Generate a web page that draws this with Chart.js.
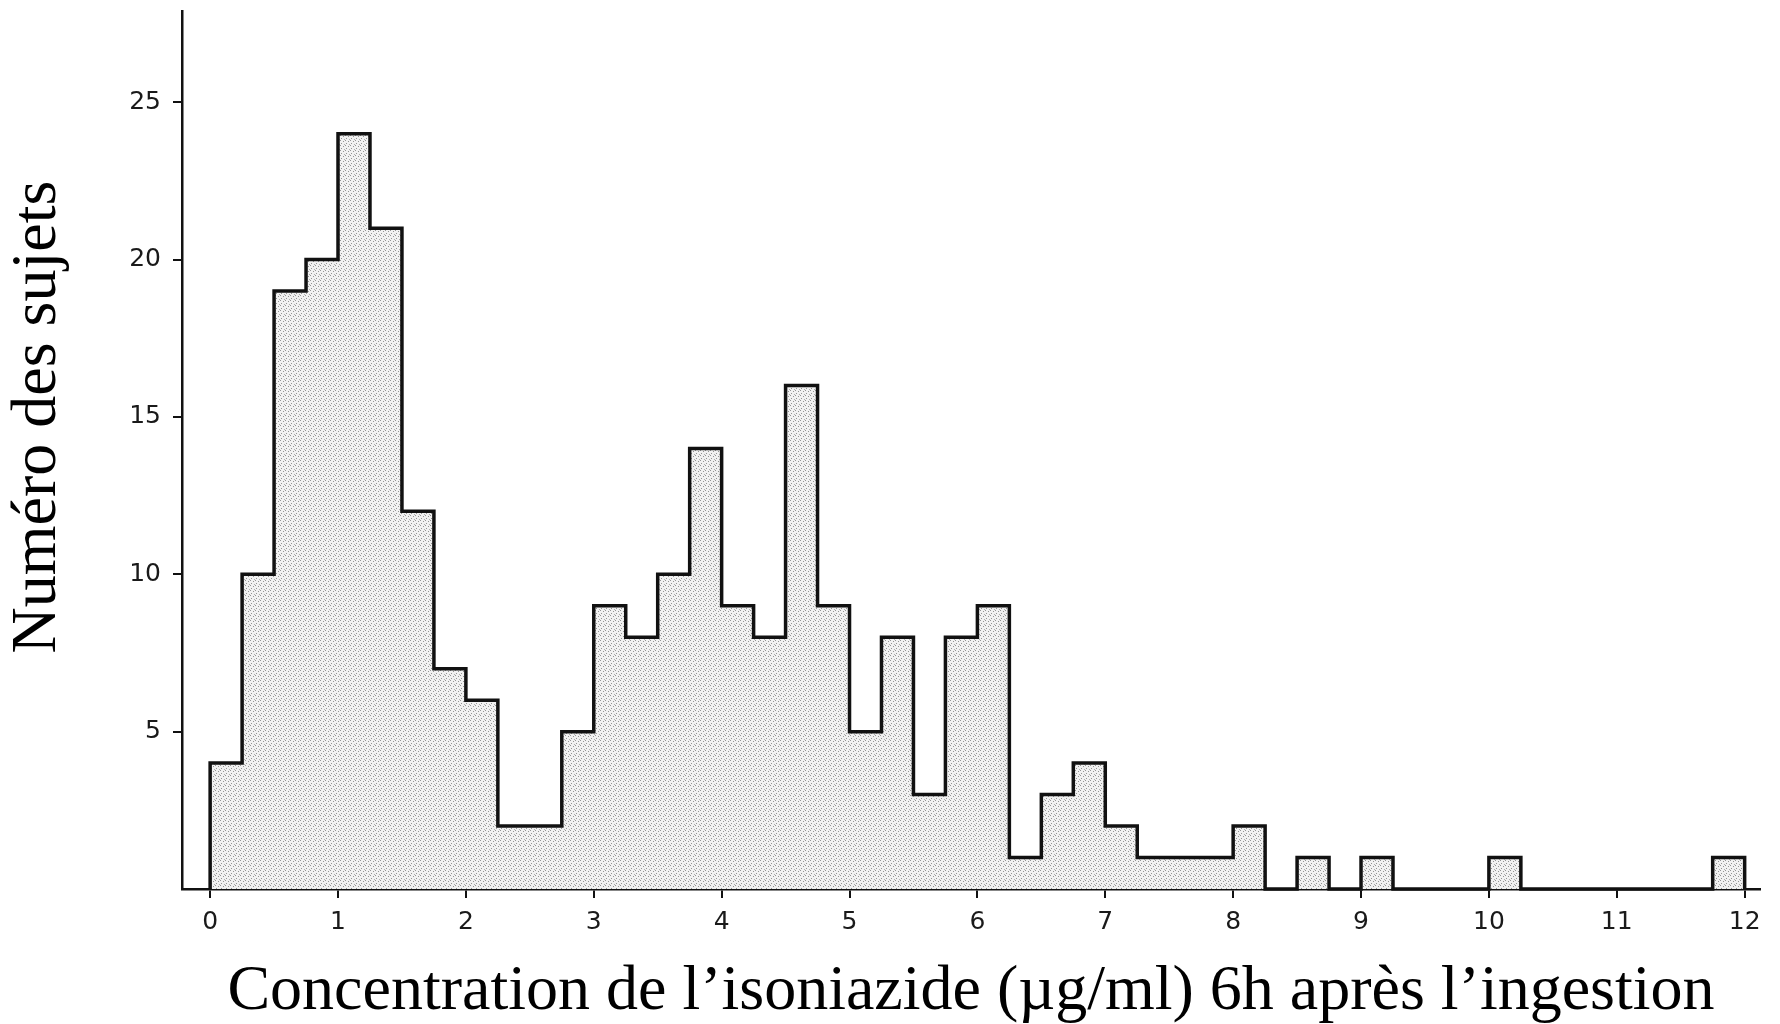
<!DOCTYPE html>
<html>
<head>
<meta charset="utf-8">
<title>Concentration de l'isoniazide</title>
<script src="https://cdn.jsdelivr.net/npm/chart.js@4.4.1/dist/chart.umd.min.js"></script>
<style>
	html, body { margin: 0; padding: 0; background: #fff; }
	#wrap { width: 1780px; height: 1024px; }
</style>
</head>
<body>
<div id="wrap"><canvas id="chart" width="1780" height="1024"></canvas></div>
<script>
// histogram bins: 0.25 µg/ml wide, starting at 0
const binStart = 0;
const binWidth = 0.25;
const counts = [4, 10, 19, 20, 24, 21, 12, 7, 6, 2, 2, 5,
				9, 8, 10, 14, 9, 8, 16, 9, 5, 8, 3, 8,
				9, 1, 3, 4, 2, 1, 1, 1, 2, 0, 1, 0,
				1, 0, 0, 0, 1, 0, 0, 0, 0, 0, 0, 1];

const xTickValues = [0, 1, 2, 3, 4, 5, 6, 7, 8, 9, 10, 11, 12];
const yTickValues = [5, 10, 15, 20, 25];

const xTitle = "Concentration de l\u2019isoniazide (\u00b5g/ml) 6h apr\u00e8s l\u2019ingestion";
const yTitle = "Num\u00e9ro des sujets";

// outline of the histogram: left edge of every bin, closed down to 0 at both ends
function outline()
{
	let pts = [{x: binStart, y: 0}];
	counts.forEach((c, i) => pts.push({x: binStart + i * binWidth, y: c}));
	pts.push({x: binStart + counts.length * binWidth, y: 0});
	return pts;
}

// small dotted tile, looks like the printed screen tone
function stipple()
{
	const tile = document.createElement("canvas");
	tile.width = 5;
	tile.height = 5;
	const c = tile.getContext("2d");
	c.fillStyle = "#f1f1f1";
	c.fillRect(0, 0, 5, 5);
	c.fillStyle = "#939393";
	c.fillRect(0, 0, 1, 1);
	c.fillRect(3, 1, 1, 1);
	c.fillRect(1, 3, 1, 1);
	c.fillStyle = "#adadad";
	c.fillRect(4, 4, 1, 1);
	return c.createPattern(tile, "repeat");
}

const ink = "#111";
const tickFont = {family: "'DejaVu Sans', sans-serif", size: 25};
const titleFont = {family: "'Liberation Serif', 'Times New Roman', serif", size: 64, lineHeight: 1};

// y title sits a bit above the middle of the axis in the original, so draw it by hand
const yTitlePlugin =
{
	id: "yTitle",
	afterDraw(chart)
	{
		const ctx = chart.ctx;
		ctx.save();
		ctx.translate(38, 417);
		ctx.rotate(-Math.PI / 2);
		ctx.font = "64px " + titleFont.family;
		ctx.fillStyle = "#000";
		ctx.textAlign = "center";
		ctx.textBaseline = "middle";
		ctx.fillText(yTitle, 0, 0);
		ctx.restore();
	}
};

new Chart(document.getElementById("chart"),
{
	type: "line",
	data:
	{
		datasets: [{
			data: outline(),
			stepped: true,
			fill: "origin",
			backgroundColor: stipple(),
			borderColor: ink,
			borderWidth: 3.5,
			pointRadius: 0,
			clip: 4
		}]
	},
	options:
	{
		responsive: false,
		animation: false,
		devicePixelRatio: 1,
		layout: {padding: {top: 11, right: 20, left: 0, bottom: 0}},
		plugins: {legend: {display: false}, tooltip: {enabled: false}},
		scales:
		{
			x:
			{
				type: "linear",
				min: -0.22,
				max: 12.12,
				afterBuildTicks: (s) => s.ticks = xTickValues.map(v => ({value: v})),
				afterFit: (s) => { s.height = 135; s.paddingLeft = 0; s.paddingRight = 0; },
				ticks: {color: "#1a1a1a", font: tickFont, padding: 9, maxRotation: 0},
				grid: {drawOnChartArea: false, tickLength: 9, color: ink, lineWidth: 2},
				border: {color: ink, width: 2.5},
				title: {display: true, text: xTitle, color: "#000", font: titleFont, padding: 0}
			},
			y:
			{
				min: 0,
				max: 27.9,
				afterBuildTicks: (s) => s.ticks = yTickValues.map(v => ({value: v})),
				afterFit: (s) => { s.width = 182; s.paddingTop = 0; s.paddingBottom = 0; },
				ticks: {color: "#1a1a1a", font: tickFont, padding: 12},
				grid: {drawOnChartArea: false, tickLength: 9, color: ink, lineWidth: 2},
				border: {color: ink, width: 2.5},
				title: {display: false}
			}
		}
	},
	plugins: [yTitlePlugin]
});
</script>
</body>
</html>
